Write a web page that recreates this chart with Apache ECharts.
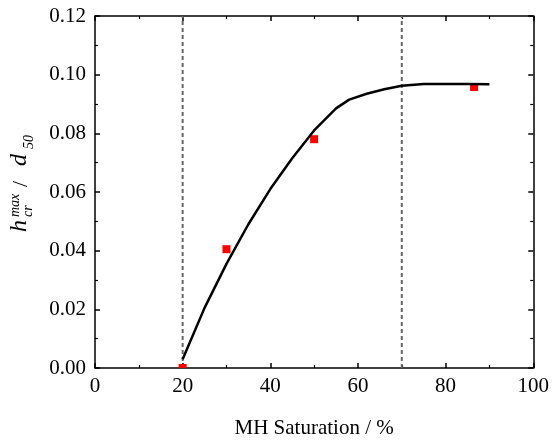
<!DOCTYPE html>
<html>
<head>
<meta charset="utf-8">
<script src="https://cdn.jsdelivr.net/npm/echarts@6/dist/echarts.min.js"></script>
<style>
  html, body { margin: 0; padding: 0; background: #fff; }
  #chart { width: 552px; height: 444px; }
</style>
</head>
<body>
<div id="chart"></div>
<script>
// Measured critical height ratio vs. hydrate saturation
const measuredSat = [20, 30, 50, 86.5];
const measuredH = [0.0, 0.0405, 0.078, 0.0958];

// Model curve
const curveSat = [20, 25, 30, 35, 40, 45, 50, 55, 58, 62, 66, 70, 75, 80, 85, 90];
const curveH = [0.003, 0.0205, 0.0355, 0.049, 0.061, 0.0715, 0.081, 0.0885, 0.0915, 0.0935, 0.095, 0.0962, 0.0968, 0.0968, 0.0968, 0.0967];

// Saturation bounds marked with dashed guides
const guideSat = [20, 70];

const xTicks = [0, 20, 40, 60, 80, 100];
const yTicks = [0, 0.02, 0.04, 0.06, 0.08, 0.10, 0.12];

const FONT = '"Liberation Serif", "Times New Roman", serif';
const chart = echarts.init(document.getElementById('chart'), null, { renderer: 'canvas' });

const axisCommon = {
  type: 'value',
  axisLine: { show: true, onZero: false, lineStyle: { color: '#000', width: 1.5 } },
  axisTick: { show: true, inside: true, length: 5, lineStyle: { color: '#000', width: 1.5 } },
  minorTick: { show: true, splitNumber: 2, length: 3, lineStyle: { color: '#000', width: 1.2 } },
  splitLine: { show: false },
  minorSplitLine: { show: false }
};

const guideSeries = guideSat.map(x => ({
  type: 'line',
  data: [[x, yTicks[0]], [x, yTicks[yTicks.length - 1]]],
  showSymbol: false,
  symbol: 'none',
  lineStyle: { color: '#666', width: 2, type: [4, 3] },
  silent: true,
  z: 1
}));

chart.setOption({
  animation: false,
  grid: { left: 95, top: 16, width: 441, height: 355 },
  xAxis: [
    Object.assign({}, axisCommon, {
      min: xTicks[0], max: xTicks[xTicks.length - 1], interval: 20, position: 'bottom',
      axisLabel: { color: '#000', fontFamily: FONT, fontSize: 21, margin: 8 },
      name: 'MH Saturation / %',
      nameLocation: 'middle',
      nameGap: 50,
      nameTextStyle: { color: '#000', fontFamily: FONT, fontSize: 21 }
    }),
    Object.assign({}, axisCommon, {
      min: xTicks[0], max: xTicks[xTicks.length - 1], interval: 20, position: 'top',
      axisLabel: { show: false }
    })
  ],
  yAxis: [
    Object.assign({}, axisCommon, {
      min: yTicks[0], max: yTicks[yTicks.length - 1], interval: 0.02, position: 'left',
      axisLabel: {
        color: '#000', fontFamily: FONT, fontSize: 21, margin: 9,
        formatter: v => v.toFixed(2)
      }
    }),
    Object.assign({}, axisCommon, {
      min: yTicks[0], max: yTicks[yTicks.length - 1], interval: 0.02, position: 'right',
      axisLabel: { show: false }
    })
  ],
  series: guideSeries.concat([
    {
      // square markers, clipped at the plot frame
      type: 'custom',
      clip: true,
      data: measuredSat.map((x, i) => [x, measuredH[i]]),
      renderItem: (params, api) => {
        const p = api.coord([api.value(0), api.value(1)]);
        const s = 8;
        return {
          type: 'rect',
          shape: { x: p[0] - s / 2, y: p[1] - s / 2, width: s, height: s },
          style: { fill: '#ff0000' }
        };
      },
      z: 2
    },
    {
      type: 'line',
      data: curveSat.map((x, i) => [x, curveH[i]]),
      showSymbol: false,
      symbol: 'none',
      smooth: false,
      lineStyle: { color: '#000', width: 2.5 },
      z: 3
    }
  ]),
  graphic: [
    {
      type: 'group',
      x: 27, y: 232,
      rotation: Math.PI / 2,
      children: [
        { type: 'text', x: 0, y: -7, style: { text: 'h', font: 'italic 24px ' + FONT, fill: '#000', verticalAlign: 'middle' } },
        { type: 'text', x: 15, y: -12, style: { text: 'max', font: 'italic 14px ' + FONT, fill: '#000', verticalAlign: 'middle' } },
        { type: 'text', x: 15, y: 1, style: { text: 'cr', font: 'italic 14px ' + FONT, fill: '#000', verticalAlign: 'middle' } },
        { type: 'text', x: 45, y: -6, style: { text: '/', font: '22px ' + FONT, fill: '#000', verticalAlign: 'middle' } },
        { type: 'text', x: 66, y: -7, style: { text: 'd', font: 'italic 24px ' + FONT, fill: '#000', verticalAlign: 'middle' } },
        { type: 'text', x: 83, y: 2, style: { text: '50', font: 'italic 14px ' + FONT, fill: '#000', verticalAlign: 'middle' } }
      ]
    }
  ]
});
</script>
</body>
</html>
